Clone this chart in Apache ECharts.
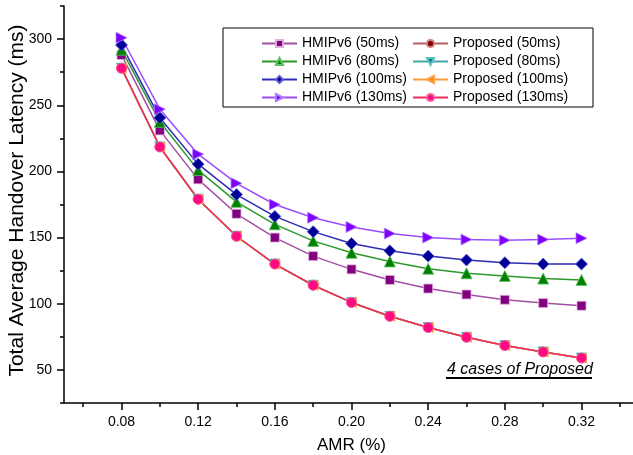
<!DOCTYPE html>
<html>
<head>
<meta charset="utf-8">
<script src="https://cdn.jsdelivr.net/npm/echarts@6/dist/echarts.min.js"></script>
<style>html,body{margin:0;padding:0;background:#fff}#c{width:633px;height:455px}</style>
</head>
<body>
<div id="c"></div>
<script>
// ---- data ----
var amr = [0.08, 0.10, 0.12, 0.14, 0.16, 0.18, 0.20, 0.22, 0.24, 0.26, 0.28, 0.30, 0.32];
var hmip50  = [288, 231, 194, 168, 150, 136, 126, 118, 111.5, 107, 103, 100.5, 98.5];
var hmip80  = [292, 237.5, 201, 177, 160, 147.5, 138.5, 132, 126.5, 123, 121, 119, 118];
var hmip100 = [295.5, 240.5, 205.5, 182.5, 166, 154.5, 145.5, 140, 136, 133, 131, 130, 130];
var hmip130 = [301, 247, 213, 191, 175, 165, 158, 153, 150, 148.5, 148, 148.5, 149.5];
var prop50  = [278, 218.5, 179, 151, 130, 114, 101, 90.5, 82, 74.7, 68.4, 63.6, 59];
var prop80  = [278, 218.5, 179, 151, 130, 114, 101, 90.5, 82, 74.7, 68.4, 63.6, 59];
var prop100 = [278, 218.5, 179, 151, 130, 114, 101, 90.5, 82, 74.7, 68.4, 63.6, 59];
var prop130 = [278, 218.5, 179, 151, 130, 114, 101, 90.5, 82, 74.7, 68.4, 63.6, 59];
var xMajor = [0.08, 0.12, 0.16, 0.20, 0.24, 0.28, 0.32];
var xMinor = [0.06, 0.10, 0.14, 0.18, 0.22, 0.26, 0.30, 0.34];
var yMajor = [50, 100, 150, 200, 250, 300];
var yMinor = [25, 75, 125, 175, 225, 275, 325];

function pairs(ys){ return amr.map(function(x,i){ return [x, ys[i]]; }); }

var FONT = '"Liberation Sans", Arial, sans-serif';

function mk(name, ys, symbol, size, lineColor, markColor, borderColor){
  return {
    name: name, type: 'line', data: pairs(ys),
    symbol: symbol, symbolSize: size, showSymbol: true,
    xAxisIndex: 0, yAxisIndex: 0,
    lineStyle: {color: lineColor, width: 1.5},
    itemStyle: {color: markColor, borderColor: borderColor, borderWidth: 0.8},
    emphasis: {disabled: true},
    animation: false, z: 2
  };
}

var series = [
  mk('Proposed (50ms)',  prop50,  'circle', 10, '#b86060', '#800000', '#d08080'),
  mk('Proposed (80ms)',  prop80,  'triangle', 10, '#40a8a8', '#008080', '#60c0c0'),
  mk('Proposed (100ms)', prop100, 'triangle', 10, '#ff9a3a', '#ff8000', '#ffa050'),
  mk('HMIPv6 (50ms)',  hmip50,  'rect', 9, '#a24ea2', '#800080', '#e0b0e0'),
  mk('HMIPv6 (80ms)',  hmip80,  'triangle', 11, '#2a9a2a', '#008000', '#60c060'),
  mk('HMIPv6 (100ms)', hmip100, 'diamond', 12, '#2c2cb4', '#000099', '#6060d0'),
  mk('HMIPv6 (130ms)', hmip130, 'triangle', 11, '#9a4cff', '#8000ff', '#b080ff'),
  mk('Proposed (130ms)', prop130, 'circle', 10, '#ec2f5e', '#ff0a80', '#ff60a0')
];
series[1].symbolRotate = 180;
series[2].symbolRotate = 90;
series[6].symbolRotate = -90;

var chart = echarts.init(document.getElementById('c'), null, {renderer: 'canvas'});

var legendText = {color: '#000', fontSize: 14, fontFamily: FONT};
chart.setOption({
  backgroundColor: '#fff',
  animation: false,
  textStyle: {fontFamily: FONT},
  grid: {left: 64, top: 6, right: -6, bottom: 52, containLabel: false, outerBoundsMode: 'none'},
  legend: [
    {data: ['HMIPv6 (50ms)','HMIPv6 (80ms)','HMIPv6 (100ms)','HMIPv6 (130ms)'],
     orient: 'vertical', left: 261, top: 36.5, padding: 0, itemWidth: 35, itemHeight: 9, itemGap: 4,
     textStyle: legendText, selectedMode: false},
    {data: ['Proposed (50ms)','Proposed (80ms)','Proposed (100ms)','Proposed (130ms)'],
     orient: 'vertical', left: 412, top: 36.5, padding: 0, itemWidth: 35, itemHeight: 9, itemGap: 4,
     textStyle: legendText, selectedMode: false}
  ],
  xAxis: [
    {type: 'value', min: 0.05, max: 0.35, position: 'bottom',
     name: 'AMR (%)', nameLocation: 'middle', nameGap: 34, nameMoveOverlap: false,
     nameTextStyle: {color: '#000', fontSize: 17, fontFamily: FONT},
     axisLine: {show: true, onZero: false, lineStyle: {color: '#000', width: 1.5}},
     axisTick: {show: true, inside: false, length: 7, customValues: xMajor, lineStyle: {color: '#000', width: 1.5}},
     axisLabel: {show: true, customValues: xMajor, margin: 12, color: '#000', fontSize: 14, fontFamily: FONT,
       formatter: function(v){ return v.toFixed(2); }},
     splitLine: {show: false}},
    {type: 'value', min: 0.05, max: 0.35, position: 'bottom', gridIndex: 0,
     axisLine: {show: false},
     axisTick: {show: true, inside: false, length: 4, customValues: xMinor, lineStyle: {color: '#000', width: 1.5}},
     axisLabel: {show: false}, splitLine: {show: false}}
  ],
  yAxis: [
    {type: 'value', min: 25, max: 325, position: 'left',
     name: 'Total Average Handover Latency (ms)', nameLocation: 'middle', nameGap: 36, nameMoveOverlap: false,
     nameTextStyle: {color: '#000', fontSize: 21, fontFamily: FONT, padding: [0, 0, 0, 8]},
     axisLine: {show: true, onZero: false, lineStyle: {color: '#000', width: 1.5}},
     axisTick: {show: true, inside: false, length: 7, customValues: yMajor, lineStyle: {color: '#000', width: 1.5}},
     axisLabel: {show: true, customValues: yMajor, margin: 12, color: '#000', fontSize: 14, fontFamily: FONT},
     splitLine: {show: false}},
    {type: 'value', min: 25, max: 325, position: 'left', gridIndex: 0,
     axisLine: {show: false},
     axisTick: {show: true, inside: false, length: 4, customValues: yMinor, lineStyle: {color: '#000', width: 1.5}},
     axisLabel: {show: false}, splitLine: {show: false}}
  ],
  graphic: [
    {type: 'rect', shape: {x: 223, y: 28, width: 370, height: 79}, style: {fill: 'none', stroke: '#000', lineWidth: 1}, z: 10, silent: true},
    {type: 'text', left: 447, top: 362, style: {text: '4 cases of Proposed', fill: '#000', font: 'italic 16px "Liberation Sans", Arial, sans-serif'}, z: 10, silent: true},
    {type: 'line', shape: {x1: 446, y1: 378, x2: 592, y2: 378}, style: {stroke: '#000', lineWidth: 2}, z: 10, silent: true}
  ],
  series: series
});
</script>
</body>
</html>
